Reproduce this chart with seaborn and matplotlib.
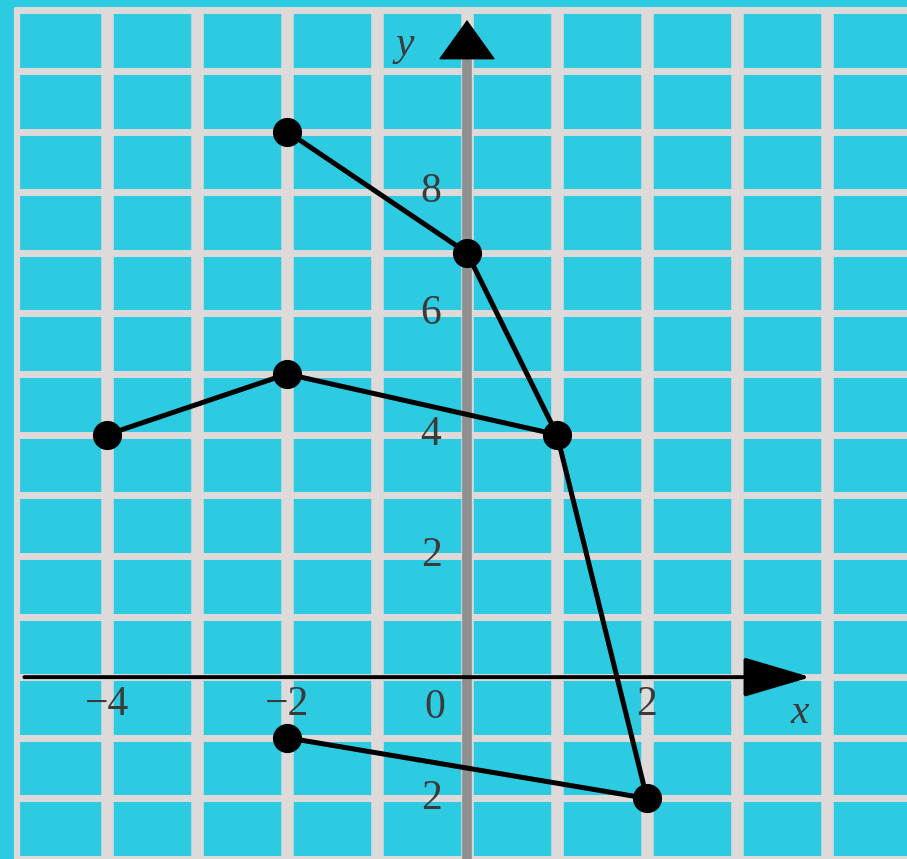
import matplotlib
matplotlib.use("Agg")
import matplotlib.pyplot as plt
import seaborn as sns
import pandas as pd

# two broken lines through the grid points
upper_x = [-4, -2, 1]
upper_y = [4, 5, 4]
lower_x = [-2, 0, 1, 2, -2]
lower_y = [9, 7, 4, -2, -1]

x_tick_pos = [-4, -2, 2]
x_tick_txt = ["\u22124", "\u22122", "2"]
y_tick_pos = [8, 6, 4, 2, -2]
y_tick_txt = ["8", "6", "4", "2", "2"]

cyan = "#2ccbe2"
grid_col = "#dedada"

df = pd.concat([
    pd.DataFrame({"x": upper_x, "y": upper_y, "path": "a"}),
    pd.DataFrame({"x": lower_x, "y": lower_y, "path": "b"}),
], ignore_index=True)
pts = df[["x", "y"]].drop_duplicates()

sns.set_style("white", {"axes.facecolor": cyan})

fig = plt.figure(figsize=(9.07, 8.59), dpi=100)
fig.patch.set_facecolor(cyan)
ax = fig.add_axes([0, 0, 1, 1])
ax.set_facecolor(cyan)
ax.set_xlim(-5.19, 4.89)
ax.set_ylim(-3.0, 11.17)
ax.set_xticks([])
ax.set_yticks([])
for s in ax.spines.values():
    s.set_visible(False)

# grid, closed on the left (x=-5) and at the top (y=11)
ax.vlines(range(-4, 5), -3.05, 11.04, color=grid_col, lw=9, zorder=0)
ax.vlines([-5], -3.05, 11.04, color=grid_col, lw=4.5, zorder=0)
ax.hlines(range(-3, 12), -5.03, 4.95, color=grid_col, lw=5, zorder=0)

# axes
ax.plot([0, 0], [-3.05, 10.25], color="#8f8f8f", lw=7, zorder=2, solid_capstyle="butt")
ax.annotate("", xy=(0, 10.84), xytext=(0, 10.2),
            arrowprops=dict(arrowstyle="-|>,head_length=1.35,head_width=0.97",
                            mutation_scale=20, color="black", lw=1,
                            shrinkA=0, shrinkB=0), zorder=3)
ax.annotate("", xy=(3.82, 0), xytext=(-4.92, 0),
            arrowprops=dict(arrowstyle="-|>,head_length=2.1,head_width=0.62",
                            mutation_scale=20, color="black", lw=2.8,
                            shrinkA=0, shrinkB=0), zorder=3)

# data
sns.lineplot(data=df, x="x", y="y", hue="path", palette=["black", "black"],
             estimator=None, sort=False, lw=3.6, legend=False, ax=ax, zorder=4)
sns.scatterplot(data=pts, x="x", y="y", color="black", s=440, ax=ax,
                edgecolor="black", linewidth=0, zorder=5)
ax.set_xlabel("")
ax.set_ylabel("")

# labels
font = dict(family="Liberation Serif", fontsize=30, color="#3a3a3a",
            ha="center", va="center", zorder=6)
for xv, t in zip(x_tick_pos, x_tick_txt):
    ax.text(xv, -0.45, t, **font)
for yv, t in zip(y_tick_pos, y_tick_txt):
    ax.text(-0.4, yv, t, **font)
ax.text(-0.36, -0.5, "0", **font)
ax.text(-0.69, 10.43, "y", style="italic", **font)
ax.text(3.70, -0.58, "x", style="italic", **font)

fig.savefig("out.png", dpi=100, facecolor=cyan)
